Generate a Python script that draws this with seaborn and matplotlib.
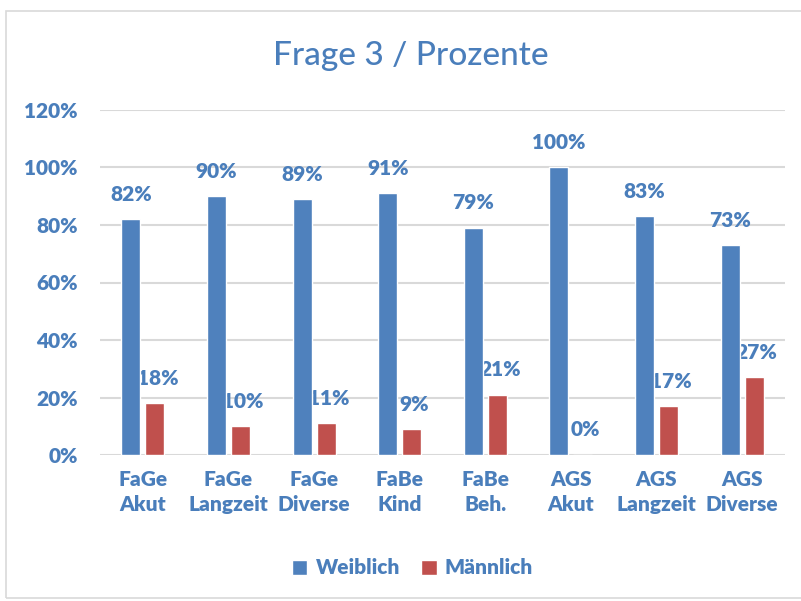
import matplotlib
matplotlib.use('Agg')
import matplotlib.pyplot as plt
import matplotlib.patches as mpatches
import seaborn as sns
import pandas as pd

categories = ['FaGe\nAkut', 'FaGe\nLangzeit', 'FaGe\nDiverse', 'FaBe\nKind',
              'FaBe\nBeh.', 'AGS\nAkut', 'AGS\nLangzeit', 'AGS\nDiverse']
weiblich = [82, 90, 89, 91, 79, 100, 83, 73]
maennlich = [18, 10, 11, 9, 21, 0, 17, 27]
series = ['Weiblich', 'Männlich']
colors = ['#4F81BD', '#C0504D']
text_color = '#4A7EBB'

df = pd.DataFrame({
    'Kategorie': categories * 2,
    'Gruppe': [series[0]] * len(categories) + [series[1]] * len(categories),
    'Wert': [v / 100 for v in weiblich] + [v / 100 for v in maennlich],
})

sns.set_theme(style='white')
plt.rcParams['font.family'] = ['Lato', 'DejaVu Sans']
W = 'heavy'

fig = plt.figure(figsize=(8.01, 6.01), dpi=100)
# chart border
fig.patches.append(mpatches.Rectangle((6 / 801, 3 / 601), 800 / 801, 587 / 601,
                                      transform=fig.transFigure, fill=False,
                                      edgecolor='#D9D9D9', linewidth=1.2))

ax = fig.add_axes([100 / 801, (601 - 455) / 601, 685 / 801, 345 / 601])
sns.barplot(data=df, x='Kategorie', y='Wert', hue='Gruppe', palette=colors,
            width=0.56, gap=0.21, saturation=1, ax=ax, zorder=3)

ax.set_ylim(0, 1.2)
ax.set_xlim(-0.5, len(categories) - 0.5)
ax.set_yticks([0, 0.2, 0.4, 0.6, 0.8, 1.0, 1.2])
ax.set_yticklabels(['0%', '20%', '40%', '60%', '80%', '100%', '120%'])
ax.yaxis.grid(True, color='#D9D9D9', linewidth=1.5, zorder=0)
ax.set_axisbelow(True)
for s in ax.spines.values():
    s.set_visible(False)
ax.set_xlabel('')
ax.set_ylabel('')
ax.tick_params(axis='y', length=0, pad=16, labelsize=15, labelcolor=text_color)
ax.tick_params(axis='x', length=0, pad=11, labelsize=15, labelcolor=text_color)
for t in ax.get_xticklabels() + ax.get_yticklabels():
    t.set_fontweight(W)
    t.set_linespacing(1.35)

# data labels: Weiblich labels on top, Männlich labels behind the blue bars
for i, cont in enumerate(ax.containers):
    vals = weiblich if i == 0 else maennlich
    for bar, v in zip(cont, vals):
        cx = bar.get_x() + bar.get_width() / 2
        ax.annotate(f'{v}%', (cx + (0.03 if i else 0), bar.get_height()),
                    xytext=(0, 18), textcoords='offset points',
                    ha='center', va='center', fontsize=15, fontweight=W,
                    color=text_color, zorder=4 if i == 0 else 1)

fig.text(0.5125, 1 - 56 / 601, 'Frage 3 / Prozente', ha='center', va='center',
         fontsize=24, color=text_color, fontweight='medium')

sns.move_legend(ax, loc='center', bbox_to_anchor=(0.515, 1 - 568 / 601),
                bbox_transform=fig.transFigure, ncol=2, frameon=False,
                title=None, fontsize=15, handlelength=0.75, handleheight=0.75,
                handletextpad=0.4, columnspacing=1.0)
for t in ax.get_legend().get_texts():
    t.set_color(text_color)
    t.set_fontweight(W)

fig.savefig('out.png', dpi=100)
